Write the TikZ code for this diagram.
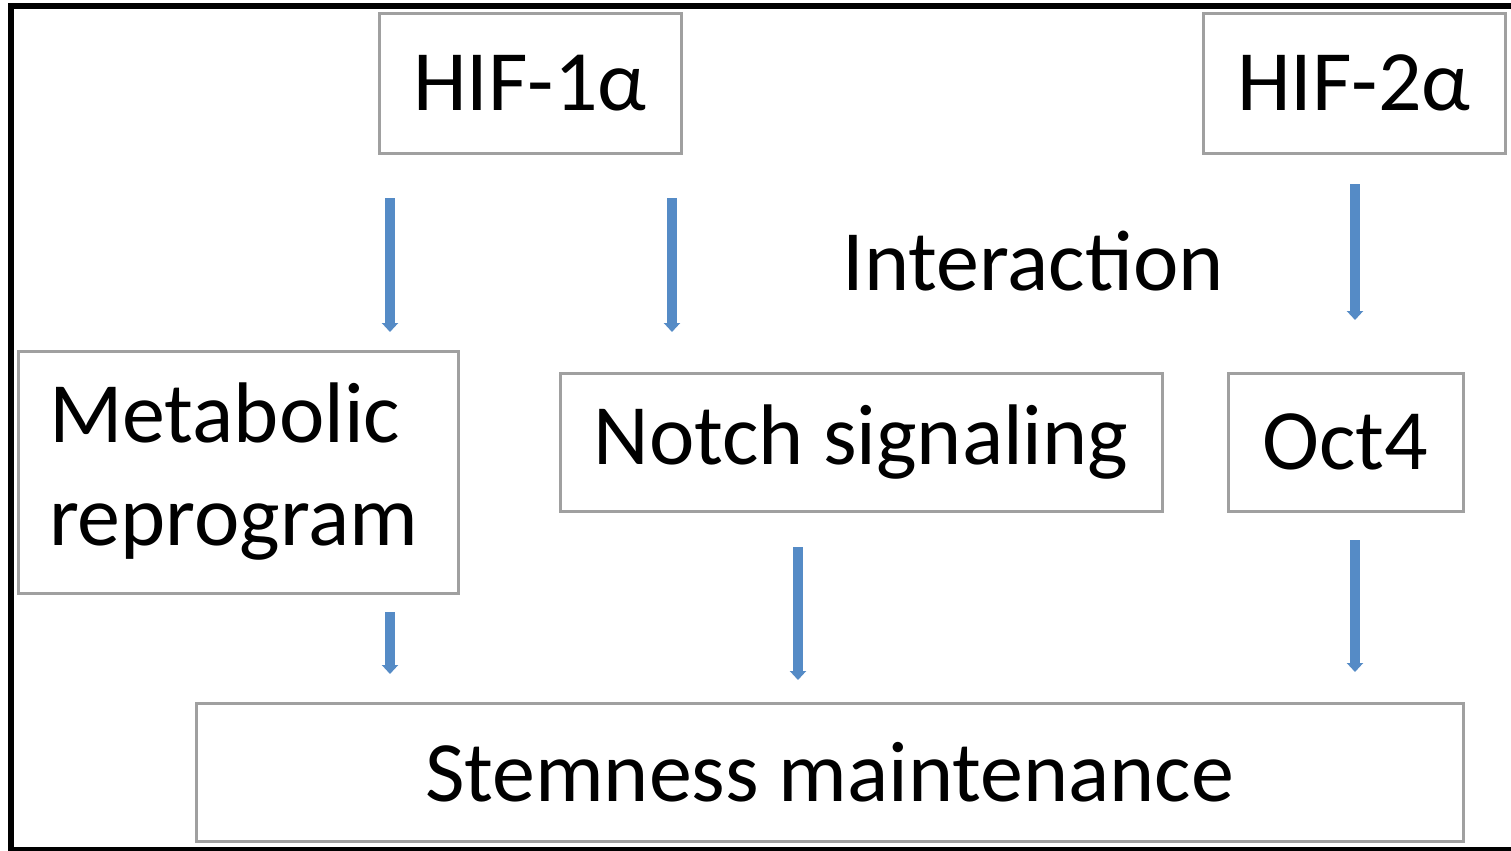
\documentclass[tikz,border=0pt]{standalone}
\usepackage{fontspec}
\setmainfont{Carlito}
\usepackage{xcolor}
\usepackage{tikz}
\usetikzlibrary{arrows.meta}

\definecolor{arrowblue}{HTML}{558BC6}
\definecolor{boxgray}{HTML}{A0A0A0}

\begin{document}
\begin{tikzpicture}[x=0.5pt,y=-0.5pt,
    box/.style={draw=boxgray,line width=1.5pt,fill=white,inner sep=0pt,
      font=\fontsize{43}{51.5}\selectfont},
    flow/.style={draw=arrowblue,line width=5pt,
      -{Triangle[width=8pt,length=4.5pt]}}]
  \useasboundingbox (0,0) rectangle (1511,851);
  % frame
  \draw[line width=3pt] (1511,6) -- (10.5,6) -- (10.5,849.5) -- (1511,849.5);

  \node [box,minimum width=151pt,minimum height=70pt] (hif1) at (530,83) {HIF-1α};
  \node [box,minimum width=151pt,minimum height=70pt] (hif2) at (1354,83) {HIF-2α};
  \node [font=\fontsize{43}{51.5}\selectfont] (inter) at (1033,261) {Interaction};
  \node [box,minimum width=220pt,minimum height=121pt,text width=189pt,
    inner xsep=15.5pt,align=left] (meta) at (238,472) {Metabolic\\reprogram};
  \node [box,minimum width=301pt,minimum height=69pt] (notch) at (861,442) {Notch signaling};
  \node [box,minimum width=117.5pt,minimum height=69pt] (oct) at (1345.5,442) {Oct4};
  \node [box,minimum width=633.5pt,minimum height=69pt] (stem) at (829.5,772) {Stemness maintenance};

  % arrow ends
  \coordinate (a1) at (390,198);   \coordinate (b1) at (390,332);
  \coordinate (a2) at (672,198);   \coordinate (b2) at (672,332);
  \coordinate (a3) at (1355,184);  \coordinate (b3) at (1355,320);
  \coordinate (a4) at (390,612);   \coordinate (b4) at (390,674);
  \coordinate (a5) at (798,547);   \coordinate (b5) at (798,680);
  \coordinate (a6) at (1355,540);  \coordinate (b6) at (1355,672);

  \draw [flow] (a1) -- (b1);
  \draw [flow] (a2) -- (b2);
  \draw [flow] (a3) -- (b3);
  \draw [flow] (a4) -- (b4);
  \draw [flow] (a5) -- (b5);
  \draw [flow] (a6) -- (b6);
\end{tikzpicture}
\end{document}
